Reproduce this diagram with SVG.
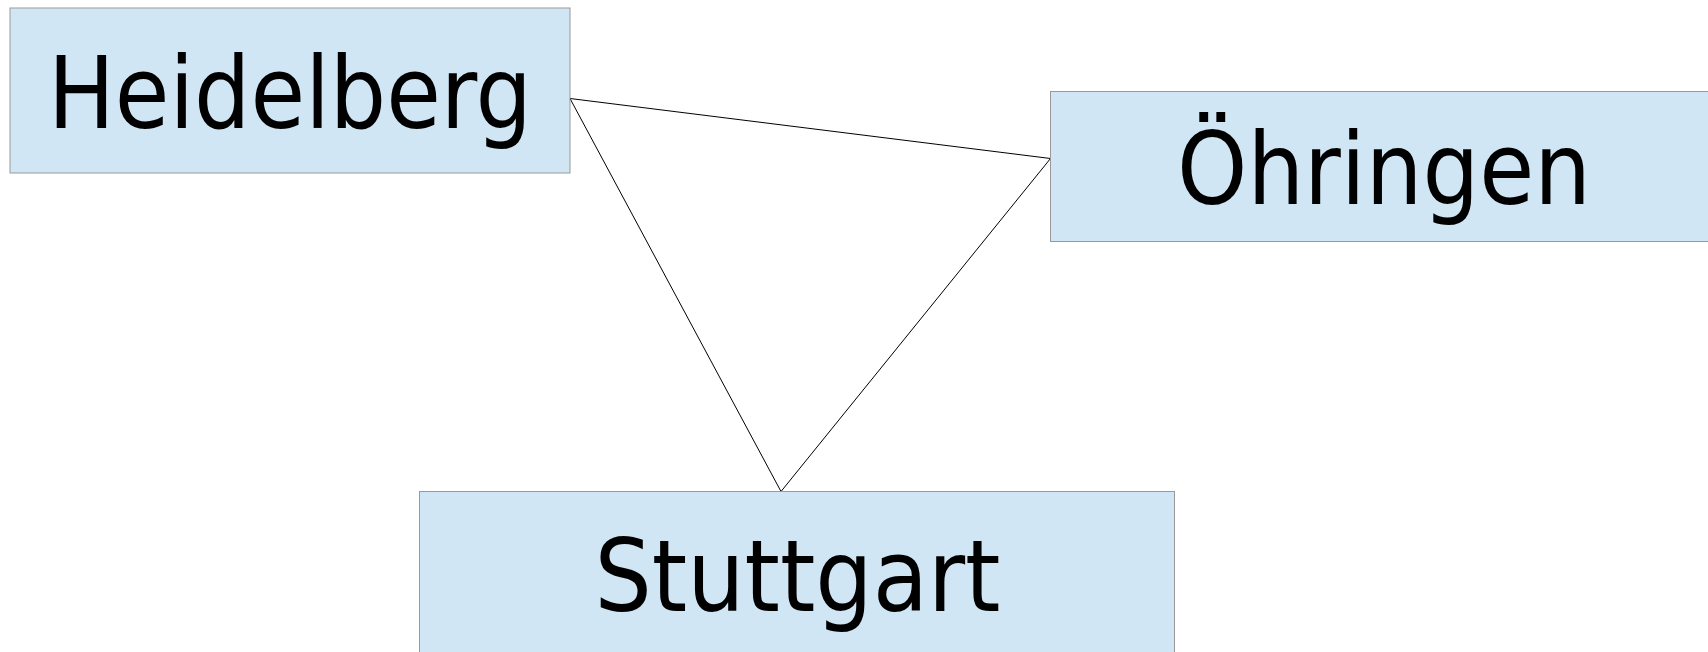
<svg xmlns="http://www.w3.org/2000/svg" width="1708" height="652" viewBox="0 0 1708 652">
<style>
.box{fill:#d0e6f4;stroke:#999999;stroke-width:1}
.lbl{font-family:"DejaVu Sans Condensed","DejaVu Sans",sans-serif;font-stretch:condensed;font-size:99px;fill:#000;text-anchor:middle}
.edge{stroke:#000;stroke-width:1;fill:none}
</style>
<rect width="1708" height="652" fill="#ffffff"/>
<g id="edges">
<line class="edge" x1="570" y1="98.5" x2="1050.5" y2="158.5"/>
<line class="edge" x1="570" y1="98.5" x2="781" y2="491.5"/>
<line class="edge" x1="1050.5" y1="158.5" x2="781" y2="491.5"/>
</g>
<g id="heidelberg">
<rect class="box" x="10" y="8" width="560" height="165"/>
<text class="lbl" x="290" y="128" textLength="484" lengthAdjust="spacingAndGlyphs">Heidelberg</text>
</g>
<g id="oehringen">
<rect class="box" x="1050.5" y="91.5" width="666" height="150"/>
<text class="lbl" x="1384" y="204" textLength="414" lengthAdjust="spacingAndGlyphs">Öhringen</text>
</g>
<g id="stuttgart">
<rect class="box" x="419.5" y="491.5" width="755" height="180"/>
<text class="lbl" x="797.5" y="610.5" textLength="406" lengthAdjust="spacingAndGlyphs">Stuttgart</text>
</g>
</svg>
